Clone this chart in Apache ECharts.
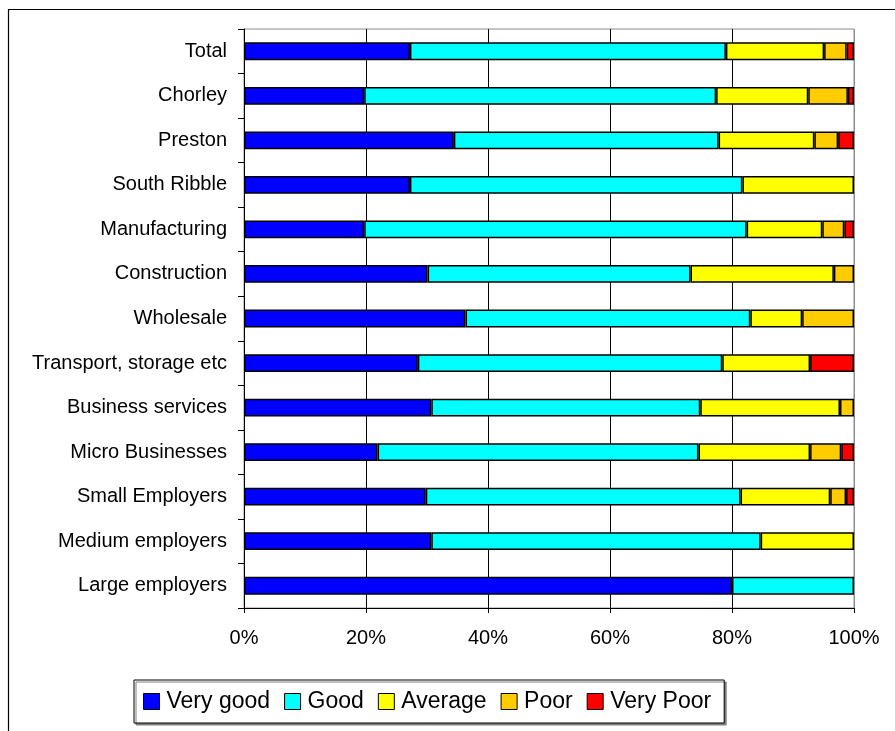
<!DOCTYPE html>
<html>
<head>
<meta charset="utf-8">
<script src="https://cdn.jsdelivr.net/npm/echarts@6/dist/echarts.min.js"></script>
<style>
  html, body { margin: 0; padding: 0; background: #fff; }
  #chart { width: 895px; height: 731px; }
</style>
</head>
<body>
<div id="chart"></div>
<script>
// Categories, top to bottom
const categories = [
  'Total', 'Chorley', 'Preston', 'South Ribble', 'Manufacturing', 'Construction',
  'Wholesale', 'Transport, storage etc', 'Business services', 'Micro Businesses',
  'Small Employers', 'Medium employers', 'Large employers'
];

// Percentage of respondents in each rating band
const veryGood = [27.2, 19.7, 34.4, 27.2, 19.7, 30.1, 36.3, 28.5, 30.7, 21.9, 29.8, 30.7, 80.0];
const good     = [51.8, 57.7, 43.4, 54.5, 62.7, 43.1, 46.7, 49.9, 44.1, 52.6, 51.6, 54.0, 20.0];
const average  = [16.1, 15.1, 15.7, 18.3, 12.4, 23.5,  8.5, 14.4, 22.9, 18.3, 14.7, 15.3,  0];
const poor     = [ 3.7,  6.5,  3.9,  0,    3.6,  3.3,  8.5,  0,    2.3,  5.1,  2.6,  0,    0];
const veryPoor = [ 1.2,  1.0,  2.6,  0,    1.6,  0,    0,    7.2,  0,    2.1,  1.3,  0,    0];

const seriesNames = ['Very good', 'Good', 'Average', 'Poor', 'Very Poor'];
const seriesValues = [veryGood, good, average, poor, veryPoor];
const seriesColors = ['#0000FF', '#00FFFF', '#FFFF00', '#FFCC00', '#FF0000'];

const xTicks = { min: 0, max: 100, interval: 20 };

const FONT = "'Liberation Sans', Arial, sans-serif";

const chart = echarts.init(document.getElementById('chart'), null, { renderer: 'canvas' });

chart.setOption({
  backgroundColor: '#fff',
  animation: false,
  textStyle: { fontFamily: FONT, color: '#000' },
  graphic: [{
    type: 'rect',
    silent: true,
    z: -10,
    shape: { x: 8.5, y: 9.5, width: 1000, height: 1000 },
    style: { fill: 'none', stroke: '#000', lineWidth: 1.2 }
  }],
  grid: {
    left: 244, top: 29, right: 41, bottom: 123,
    show: true, borderColor: '#8c8c8c', borderWidth: 1,
    backgroundColor: '#fff',
    outerBoundsMode: 'none'
  },
  legend: {
    left: 134, top: 680,
    orient: 'horizontal',
    itemWidth: 16, itemHeight: 16, itemGap: 14,
    padding: [10, 13, 10, 9],
    borderColor: '#000', borderWidth: 1,
    backgroundColor: '#fff',
    shadowColor: '#808080', shadowOffsetX: 2, shadowOffsetY: 2, shadowBlur: 0,
    icon: 'rect',
    itemStyle: { borderColor: '#000', borderWidth: 1 },
    textStyle: { fontFamily: FONT, fontSize: 23, color: '#000', padding: [0, 0, 0, 2] },
    data: seriesNames
  },
  xAxis: {
    type: 'value',
    min: xTicks.min, max: xTicks.max, interval: xTicks.interval,
    axisLine: { show: true, lineStyle: { color: '#000', width: 1 } },
    axisTick: { show: true, length: 5, inside: false, lineStyle: { color: '#000' } },
    axisLabel: { formatter: '{value}%', fontSize: 20, color: '#000', margin: 20, fontFamily: FONT },
    splitLine: { show: true, lineStyle: { color: ['#000', '#000', '#000', '#000', '#000', '#8c8c8c'], width: 1 } }
  },
  yAxis: {
    type: 'category',
    inverse: true,
    data: categories,
    axisLine: { show: true, lineStyle: { color: '#000', width: 1 } },
    axisTick: { show: true, length: 6, inside: false, alignWithLabel: false, lineStyle: { color: '#000' } },
    axisLabel: { fontSize: 20, color: '#000', margin: 17, fontFamily: FONT },
    splitLine: { show: false }
  },
  series: seriesNames.map((name, i) => ({
    name,
    type: 'bar',
    stack: 'rating',
    barCategoryGap: '60%',
    itemStyle: { color: seriesColors[i], borderColor: '#000', borderWidth: 1.5 },
    data: seriesValues[i].map(v => (v === 0 ? null : v))
  }))
});
</script>
</body>
</html>
